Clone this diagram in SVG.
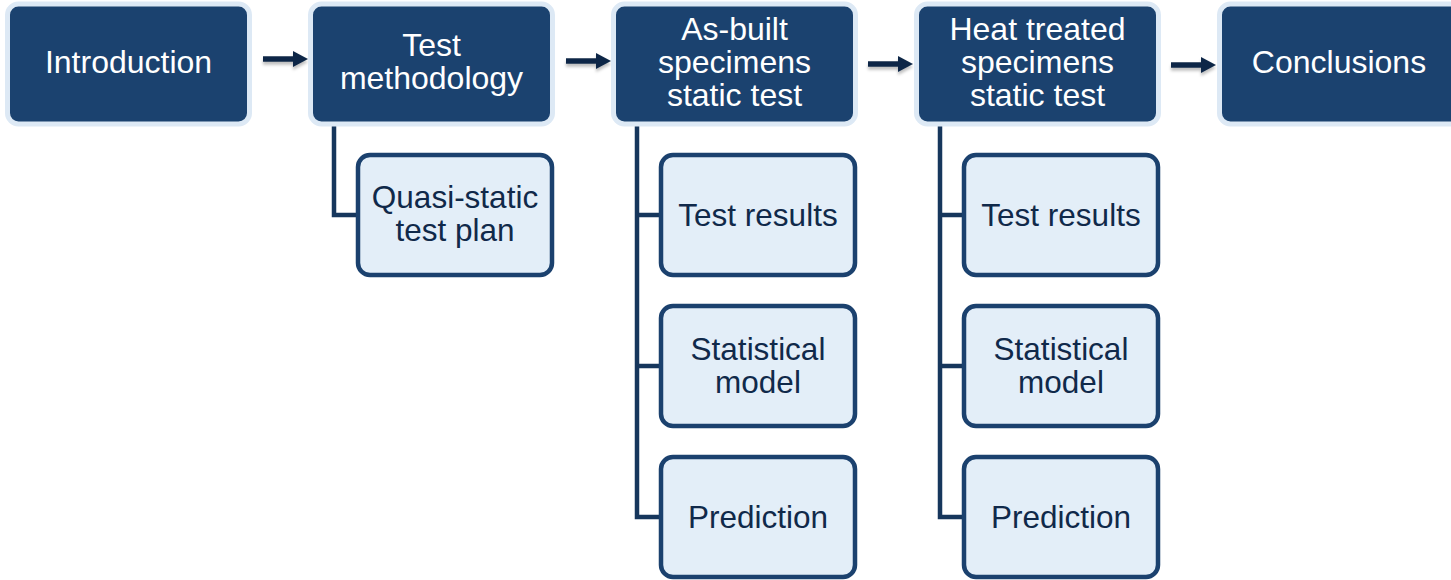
<svg xmlns="http://www.w3.org/2000/svg" width="1451" height="580" viewBox="0 0 1451 580">
<defs>
<style>
.top{fill:#1b426f;stroke:#dde9f5;stroke-width:5}
.sub{fill:#e3eef8;stroke:#1b416e;stroke-width:4.5}
.tw{font-family:"Liberation Sans",Arial,sans-serif;font-size:32px;fill:#ffffff;text-anchor:middle}
.td{font-family:"Liberation Sans",Arial,sans-serif;font-size:31.5px;fill:#10294a;text-anchor:middle}
.conn{fill:none;stroke:#16365c;stroke-width:4.5;stroke-linejoin:miter}
.arr{fill:none;stroke:#0f2847;stroke-width:5.5}
.ah{fill:#0f2847}
</style>
<filter id="sh" x="-20%" y="-50%" width="140%" height="250%">
<feDropShadow dx="0" dy="3" stdDeviation="1.5" flood-color="#000000" flood-opacity="0.25"/>
</filter>
</defs>
<rect width="1451" height="580" fill="#ffffff"/>

<g id="connectors">
<g filter="url(#sh)">
<line class="arr" x1="263" y1="59" x2="296" y2="59"/><polygon class="ah" points="293,51 308,59 293,67"/>
<line class="arr" x1="566" y1="61" x2="599" y2="61"/><polygon class="ah" points="596,53 611,61 596,69"/>
<line class="arr" x1="868" y1="64" x2="901" y2="64"/><polygon class="ah" points="898,56 913,64 898,72"/>
<line class="arr" x1="1171" y1="65" x2="1204" y2="65"/><polygon class="ah" points="1201,57 1216,65 1201,73"/>
</g>
<path class="conn" d="M334,124 V215 H358"/>
<path class="conn" d="M637,124 V517 H661 M637,215 H661 M637,366 H661"/>
<path class="conn" d="M940,124 V517 H964 M940,215 H964 M940,366 H964"/>
</g>

<g id="introduction">
<rect class="top" x="7.5" y="4" width="242" height="120" rx="11"/>
<text class="tw" x="128.5" y="73">Introduction</text>
</g>
<g id="test-methodology">
<rect class="top" x="310.5" y="4" width="242" height="120" rx="11"/>
<text class="tw" x="431.5" y="56">Test</text>
<text class="tw" x="431.5" y="89">methodology</text>
</g>
<g id="as-built">
<rect class="top" x="613.5" y="4" width="242" height="120" rx="11"/>
<text class="tw" x="734.5" y="40">As-built</text>
<text class="tw" x="734.5" y="73">specimens</text>
<text class="tw" x="734.5" y="106">static test</text>
</g>
<g id="heat-treated">
<rect class="top" x="916.5" y="4" width="242" height="120" rx="11"/>
<text class="tw" x="1037.5" y="40">Heat treated</text>
<text class="tw" x="1037.5" y="73">specimens</text>
<text class="tw" x="1037.5" y="106">static test</text>
</g>
<g id="conclusions">
<rect class="top" x="1219.5" y="4" width="242" height="120" rx="11"/>
<text class="tw" x="1339" y="73">Conclusions</text>
</g>

<g id="quasi-static">
<rect class="sub" x="358" y="155" width="194" height="120" rx="12"/>
<text class="td" x="455" y="208">Quasi-static</text>
<text class="td" x="455" y="241">test plan</text>
</g>
<g id="ab-test-results">
<rect class="sub" x="661" y="155" width="194" height="120" rx="12"/>
<text class="td" x="758" y="226">Test results</text>
</g>
<g id="ab-statistical-model">
<rect class="sub" x="661" y="306" width="194" height="120" rx="12"/>
<text class="td" x="758" y="360">Statistical</text>
<text class="td" x="758" y="393">model</text>
</g>
<g id="ab-prediction">
<rect class="sub" x="661" y="457" width="194" height="120" rx="12"/>
<text class="td" x="758" y="528">Prediction</text>
</g>
<g id="ht-test-results">
<rect class="sub" x="964" y="155" width="194" height="120" rx="12"/>
<text class="td" x="1061" y="226">Test results</text>
</g>
<g id="ht-statistical-model">
<rect class="sub" x="964" y="306" width="194" height="120" rx="12"/>
<text class="td" x="1061" y="360">Statistical</text>
<text class="td" x="1061" y="393">model</text>
</g>
<g id="ht-prediction">
<rect class="sub" x="964" y="457" width="194" height="120" rx="12"/>
<text class="td" x="1061" y="528">Prediction</text>
</g>
</svg>
